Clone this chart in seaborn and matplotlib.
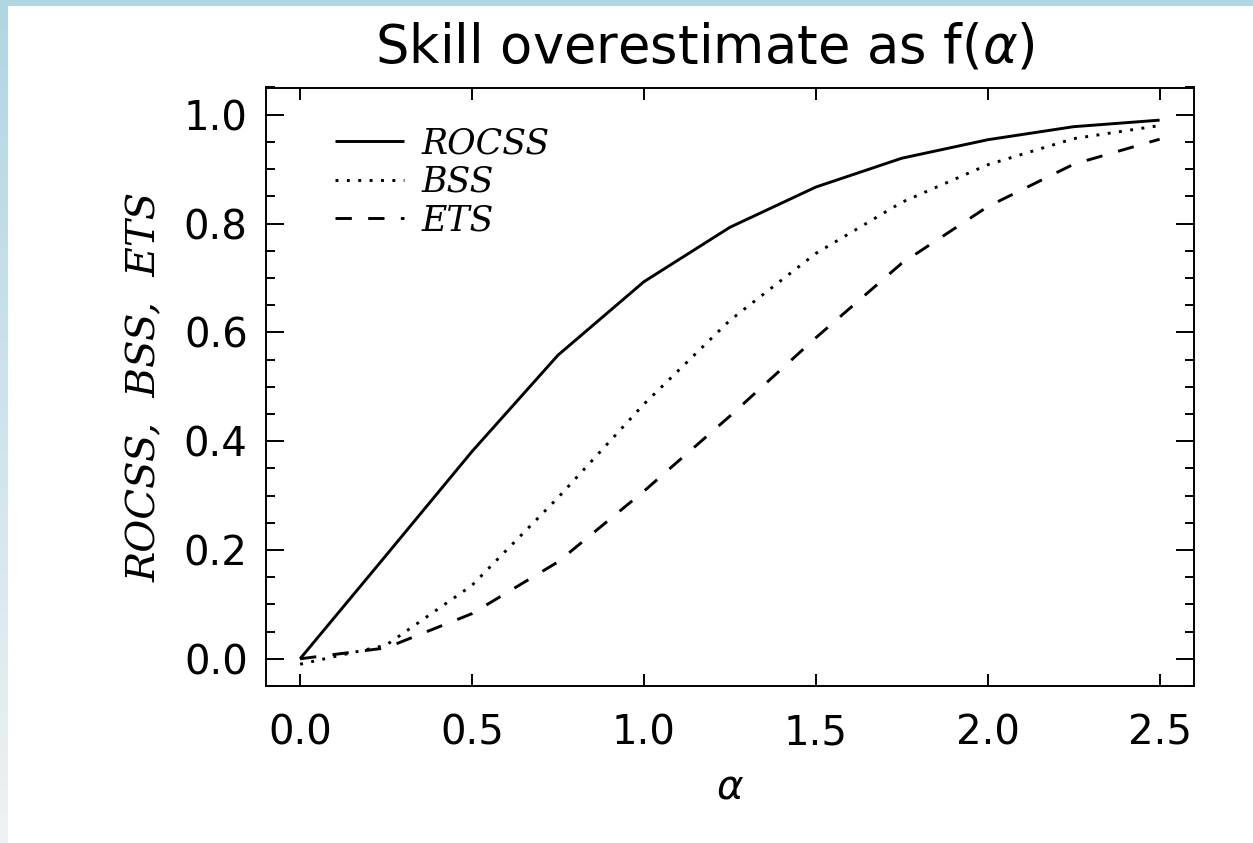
import numpy as np
import pandas as pd
import matplotlib
matplotlib.use("Agg")
import matplotlib.pyplot as plt
from matplotlib.ticker import MultipleLocator
import seaborn as sns

# Skill scores as a function of alpha
alpha = [0.0, 0.25, 0.5, 0.75, 1.0, 1.25, 1.5, 1.75, 2.0, 2.25, 2.5]
rocss = [0.0, 0.19, 0.381, 0.558, 0.693, 0.793, 0.867, 0.920, 0.954, 0.978, 0.990]
bss = [-0.01, 0.025, 0.135, 0.296, 0.468, 0.622, 0.745, 0.839, 0.908, 0.956, 0.980]
ets = [0.0, 0.02, 0.083, 0.178, 0.308, 0.446, 0.590, 0.727, 0.831, 0.909, 0.955]
series_names = ["ROCSS", "BSS", "ETS"]
xticks = [0.0, 0.5, 1.0, 1.5, 2.0, 2.5]
yticks = [0.0, 0.2, 0.4, 0.6, 0.8, 1.0]

sns.set_theme(style="ticks")
plt.rcParams["font.family"] = ["DejaVu Sans"]
plt.rcParams["mathtext.fontset"] = "dejavusans"
plt.rcParams["text.color"] = "black"
plt.rcParams["axes.labelcolor"] = "black"
plt.rcParams["xtick.color"] = "black"
plt.rcParams["ytick.color"] = "black"

W, H = 1253, 843
fig = plt.figure(figsize=(W / 100, H / 100), dpi=100)
fig.patch.set_facecolor("white")

# light blue frame along the top and left edge
bg = fig.add_axes([0, 0, 1, 1], zorder=-10)
img = np.ones((H, W, 3))
top_c = np.array([176, 214, 226]) / 255.0
bot_c = np.array([238, 242, 245]) / 255.0
img[:6, :, :] = top_c
t = np.linspace(0, 1, H)[:, None, None]
img[:, :8, :] = (1 - t) * top_c + t * bot_c
bg.imshow(img, extent=(0, W, H, 0), aspect="auto", interpolation="bilinear")
bg.set_axis_off()

ax = fig.add_axes([265.7 / W, 1 - 686 / H, (1194 - 265.7) / W, (686 - 87.5) / H])
ax.set_facecolor("none")

lw = 2.1
styles = {
    "ROCSS": "-",
    "BSS": (0, (1.0, 2.9)),
    "ETS": (0, (5.6, 5.6)),
}
for name, vals in zip(series_names, [rocss, bss, ets]):
    sns.lineplot(x=alpha, y=vals, ax=ax, color="black", lw=lw,
                 linestyle=styles[name], label=name, dash_capstyle="butt",
                 solid_capstyle="butt", estimator=None)

ax.set_xlim(-0.1, 2.6)
ax.set_ylim(-0.05, 1.05)
ax.set_xticks(xticks)
ax.set_xticklabels([f"{v:.1f}" for v in xticks])
ax.set_yticks(yticks)
ax.set_yticklabels([f"{v:.1f}" for v in yticks])
ax.yaxis.set_minor_locator(MultipleLocator(0.05))

for s in ax.spines.values():
    s.set_visible(True)
    s.set_linewidth(1.4)
    s.set_color("black")

ax.tick_params(axis="both", which="both", direction="in", color="black",
               width=1.4, top=True, right=True, labelsize=29,
               labelcolor="black")
ax.tick_params(axis="y", which="major", length=13, pad=13)
ax.tick_params(axis="y", which="minor", length=6.5)
ax.tick_params(axis="x", which="major", length=8.5, pad=20)

ax.set_title(r"Skill overestimate as f($\alpha$)", fontsize=38,
             fontfamily="DejaVu Sans", pad=18, fontweight="normal",
             color="black", x=0.473)
ax.set_xlabel(r"$\alpha$", fontsize=29, labelpad=10)
ax.set_ylabel("ROCSS,  BSS,  ETS", fontsize=29, fontstyle="italic",
              fontfamily="DejaVu Serif", labelpad=14)

leg = ax.legend(loc="upper left", bbox_to_anchor=(0.0747, 0.935),
                frameon=False, borderpad=0, borderaxespad=0,
                handlelength=2.0, handletextpad=0.5, labelspacing=0.13,
                prop={"family": "DejaVu Serif", "style": "italic", "size": 25})
for txt in leg.get_texts():
    txt.set_color("black")

fig.savefig("out.png", dpi=100, facecolor="white")
